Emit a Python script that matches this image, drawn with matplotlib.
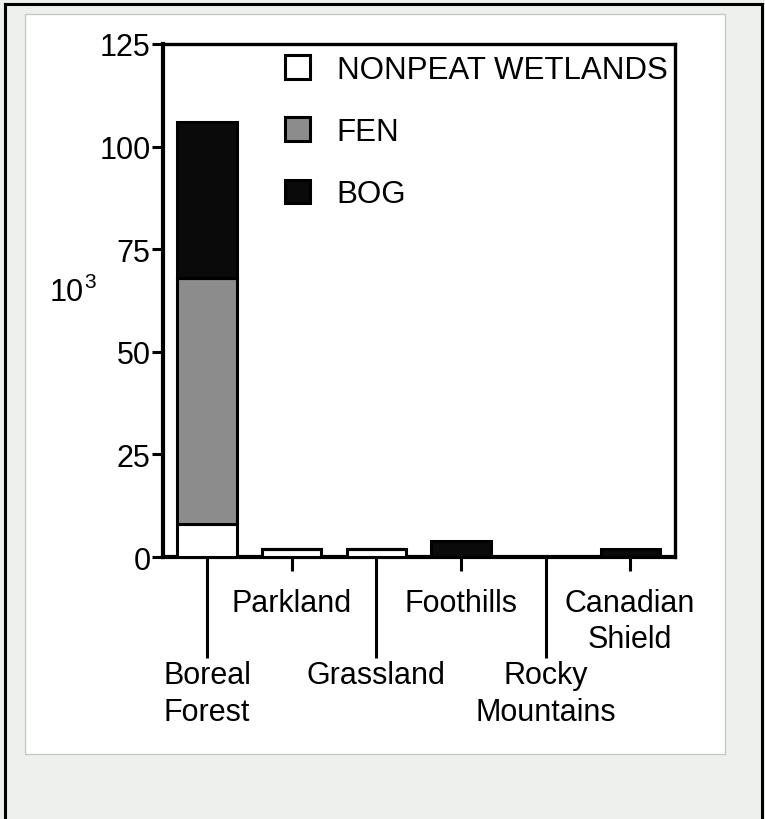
import matplotlib
matplotlib.use("Agg")
import matplotlib.pyplot as plt
from matplotlib.patches import Patch, Rectangle
from matplotlib.lines import Line2D
import numpy as np

plt.rcParams['font.family'] = ['Liberation Sans', 'DejaVu Sans']

categories = ['Boreal\nForest', 'Parkland', 'Grassland', 'Foothills', 'Rocky\nMountains', 'Canadian\nShield']
nonpeat = [8, 2, 2, 0, 0, 0]
fen = [60, 0, 0, 0, 0, 0]
bog = [38, 0, 0, 4, 0, 2]
yticks = [0, 25, 50, 75, 100, 125]
legend_labels = ['NONPEAT WETLANDS', 'FEN', 'BOG']
colors = ['white', '#8c8c8c', '#0a0a0a']

fig = plt.figure(figsize=(7.65, 8.2), dpi=100)
fig.patch.set_facecolor('#eef0ee')

# white panel behind the chart
fig.add_artist(Rectangle((25/765, 65/820), 700/765, 740/820, transform=fig.transFigure,
                         facecolor='white', edgecolor='#c8c8c8', linewidth=1, zorder=0))
# black frame (left, top, right)
fig.add_artist(Line2D([4.5/765, 4.5/765], [0, 1 - 4.5/820], transform=fig.transFigure, color='black', lw=2.2))
fig.add_artist(Line2D([4.5/765, 1 - 3/765], [1 - 4.5/820, 1 - 4.5/820], transform=fig.transFigure, color='black', lw=2.2))
fig.add_artist(Line2D([1 - 3/765, 1 - 3/765], [0, 1 - 4.5/820], transform=fig.transFigure, color='black', lw=2.2))

ax = fig.add_axes([163/765, 262/820, 512/765, 513/820])
ax.patch.set_alpha(0)

x = np.arange(len(categories))
w = 0.70
nonpeat = np.array(nonpeat)
fen = np.array(fen)
bog = np.array(bog)
ax.bar(x, nonpeat, w, color=colors[0], edgecolor='black', linewidth=2.2, zorder=3)
ax.bar(x, fen, w, bottom=nonpeat, color=colors[1], edgecolor='black', linewidth=2.2, zorder=3)
ax.bar(x, bog, w, bottom=nonpeat + fen, color=colors[2], edgecolor='black', linewidth=2.2, zorder=3)

ax.set_xlim(-0.52, 5.53)
ax.set_ylim(0, 125)
ax.set_yticks(yticks)
ax.tick_params(axis='y', length=8, width=2.2, pad=1, labelsize=22)

for s in ['left', 'bottom']:
    ax.spines[s].set_linewidth(3)
for s in ['top', 'right']:
    ax.spines[s].set_linewidth(2.4)

# long ticks for even categories, short ticks for odd ones
ax.set_xticks(x[::2])
ax.set_xticklabels(categories[::2])
ax.set_xticks(x[1::2], minor=True)
ax.set_xticklabels(categories[1::2], minor=True)
ax.tick_params(axis='x', which='major', length=73, width=2.2, pad=1, labelsize=22)
ax.tick_params(axis='x', which='minor', length=10, width=2.2, pad=12, labelsize=22)
for lab in ax.get_xticklabels(minor=False) + ax.get_xticklabels(minor=True):
    lab.set_linespacing(1.3)
    lab.set_multialignment('center')

fig.text(50/765, 1 - 293/820, '10', fontsize=22, va='center', ha='left')
fig.text(84/765, 1 - 283/820, '3', fontsize=15, va='center', ha='left')

handles = [Patch(facecolor=c, edgecolor='black', linewidth=2.2) for c in colors]
ax.legend(handles, legend_labels, loc='upper left', bbox_to_anchor=(285/765, 1 - 56/820),
          bbox_transform=fig.transFigure, frameon=False, fontsize=22.5, handlelength=0.8,
          handleheight=0.8, handletextpad=0.85, labelspacing=1.03, borderpad=0, borderaxespad=0)

fig.savefig('out.png', dpi=100, facecolor=fig.get_facecolor())
